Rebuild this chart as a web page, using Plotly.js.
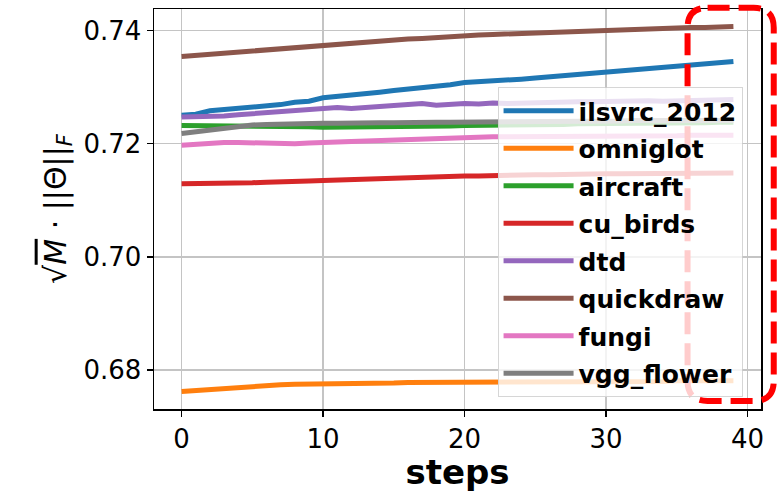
<!DOCTYPE html>
<html>
<head>
<meta charset="utf-8">
<script src="https://cdn.plot.ly/plotly-3.0.1.min.js"></script>
<style>html,body{margin:0;padding:0;background:#fff;}#chart{width:781px;height:492px;}</style>
</head>
<body>
<div id="chart"></div>
<script>
const steps = Array.from({length: 40}, (_, i) => i);
const seriesNames = ["ilsvrc_2012","omniglot","aircraft","cu_birds","dtd","quickdraw","fungi","vgg_flower"];
const seriesColors = ["#1f77b4","#ff7f0e","#2ca02c","#d62728","#9467bd","#8c564b","#e377c2","#7f7f7f"];

const ilsvrc_2012 = [0.7250,0.7252,0.7258,0.7260,0.7261,0.7264,0.7266,0.7269,0.7273,0.7275,0.7281,0.7283,0.7285,0.7288,0.7291,0.7294,0.7296,0.7298,0.7301,0.7304,0.7308,0.7309,0.7311,0.7313,0.7314,0.7316,0.7318,0.7320,0.7322,0.7324,0.7327,0.7328,0.7330,0.7332,0.7334,0.7336,0.7338,0.7340,0.7341,0.7345];
const omniglot = [0.6762,0.6764,0.6766,0.6768,0.6770,0.6772,0.6773,0.6774,0.6775,0.6775,0.6776,0.6776,0.6777,0.6777,0.6777,0.6777,0.6778,0.6778,0.6778,0.6778,0.6778,0.6779,0.6779,0.6779,0.6779,0.6779,0.6779,0.6780,0.6780,0.6780,0.6780,0.6780,0.6780,0.6780,0.6780,0.6781,0.6781,0.6781,0.6781,0.6781];
const aircraft = [0.7232,0.7232,0.7232,0.7231,0.7231,0.7231,0.7231,0.7230,0.7230,0.7230,0.7229,0.7229,0.7229,0.7229,0.7229,0.7229,0.7230,0.7230,0.7231,0.7231,0.7232,0.7232,0.7233,0.7233,0.7233,0.7234,0.7234,0.7234,0.7235,0.7235,0.7235,0.7236,0.7236,0.7236,0.7237,0.7237,0.7237,0.7237,0.7238,0.7238];
const cu_birds = [0.7129,0.7129,0.7130,0.7130,0.7131,0.7131,0.7132,0.7132,0.7133,0.7134,0.7135,0.7136,0.7137,0.7138,0.7139,0.7139,0.7140,0.7140,0.7141,0.7142,0.7143,0.7143,0.7144,0.7144,0.7145,0.7145,0.7145,0.7146,0.7146,0.7147,0.7147,0.7147,0.7147,0.7148,0.7148,0.7148,0.7148,0.7148,0.7148,0.7148];
const dtd = [0.7247,0.7247,0.7248,0.7249,0.7251,0.7253,0.7254,0.7256,0.7258,0.7259,0.7261,0.7264,0.7262,0.7264,0.7266,0.7268,0.7269,0.7271,0.7268,0.7270,0.7271,0.7270,0.7272,0.7271,0.7272,0.7273,0.7272,0.7273,0.7274,0.7274,0.7275,0.7274,0.7275,0.7276,0.7275,0.7276,0.7277,0.7276,0.7277,0.7278];
const quickdraw = [0.7354,0.7356,0.7358,0.7360,0.7362,0.7364,0.7366,0.7368,0.7370,0.7372,0.7375,0.7376,0.7378,0.7380,0.7381,0.7383,0.7385,0.7386,0.7388,0.7389,0.7391,0.7392,0.7393,0.7394,0.7395,0.7396,0.7397,0.7398,0.7399,0.7400,0.7401,0.7402,0.7402,0.7403,0.7404,0.7404,0.7405,0.7405,0.7406,0.7407];
const fungi = [0.7197,0.7199,0.7201,0.7202,0.7202,0.7201,0.7201,0.7200,0.7200,0.7201,0.7203,0.7203,0.7204,0.7205,0.7206,0.7207,0.7208,0.7209,0.7210,0.7210,0.7211,0.7211,0.7212,0.7212,0.7212,0.7212,0.7213,0.7213,0.7213,0.7213,0.7213,0.7213,0.7214,0.7214,0.7214,0.7214,0.7215,0.7215,0.7215,0.7215];
const vgg_flower = [0.7218,0.7221,0.7226,0.7229,0.7232,0.7233,0.7234,0.7235,0.7235,0.7236,0.7236,0.7236,0.7237,0.7237,0.7237,0.7237,0.7238,0.7238,0.7238,0.7238,0.7238,0.7239,0.7239,0.7239,0.7239,0.7239,0.7240,0.7240,0.7240,0.7240,0.7240,0.7240,0.7241,0.7241,0.7241,0.7241,0.7241,0.7241,0.7241,0.7241];

const xTickVals = [0, 10, 20, 30, 40];
const yTickVals = [0.68, 0.70, 0.72, 0.74];
const yTickText = ["0.68", "0.70", "0.72", "0.74"];

const seriesValues = [ilsvrc_2012, omniglot, aircraft, cu_birds, dtd, quickdraw, fungi, vgg_flower];

const traces = seriesNames.map((name, i) => ({
  x: steps, y: seriesValues[i], name: name, type: "scatter", mode: "lines",
  legendgroup: name,
  line: {color: seriesColors[i], width: 5}
}));

// red dashed rounded box (paper coords)
const bx0 = 0.879, bx1 = 1.021, by0 = 0.020, by1 = 1.003, rx = 0.033, ry = 0.050;
const boxPath = `M${bx0+rx},${by1} L${bx1-rx},${by1} Q${bx1},${by1} ${bx1},${by1-ry} L${bx1},${by0+ry} Q${bx1},${by0} ${bx1-rx},${by0} L${bx0+rx},${by0} Q${bx0},${by0} ${bx0},${by0+ry} L${bx0},${by1-ry} Q${bx0},${by1} ${bx0+rx},${by1} Z`;

const layout = {
  width: 781, height: 492,
  margin: {l: 154, r: 20, t: 8.5, b: 83, pad: 0},
  paper_bgcolor: "#fff", plot_bgcolor: "#fff",
  font: {family: "DejaVu Sans", color: "#000"},
  showlegend: true,
  xaxis: {
    range: [-1.95, 40.95], tickvals: xTickVals, ticktext: xTickVals.map(String),
    showgrid: true, gridcolor: "#c4c4c4", gridwidth: 1.5,
    zeroline: false, showline: true, mirror: true, linecolor: "#000", linewidth: 1.5,
    ticks: "outside", ticklen: 6, tickwidth: 1.5, tickcolor: "#000",
    tickfont: {size: 26, family: "DejaVu Sans", color: "#000"},
    title: {text: "<b>steps</b>", font: {size: 34, family: "DejaVu Sans", color: "#000"}, standoff: 6}
  },
  yaxis: {
    range: [0.67312, 0.74379], tickvals: yTickVals, ticktext: yTickText,
    showgrid: true, gridcolor: "#c4c4c4", gridwidth: 1.5,
    zeroline: false, showline: true, mirror: true, linecolor: "#000", linewidth: 1.5,
    ticks: "outside", ticklen: 6, tickwidth: 1.5, tickcolor: "#000",
    tickfont: {size: 26, family: "DejaVu Sans", color: "#000"},
    title: {text: "√<span style='text-decoration:overline'><i>M</i></span> · ||Θ||<sub><i>F</i></sub>", font: {size: 30, family: "DejaVu Sans", color: "#000"}, standoff: 8}
  },
  legend: {
    x: 0.566, y: 0.805, xanchor: "left", yanchor: "top",
    bgcolor: "rgba(255,255,255,0.8)", bordercolor: "rgba(204,204,204,0.8)", borderwidth: 1,
    font: {size: 25, family: "DejaVu Sans", color: "#000", weight: "bold"},
    itemwidth: 70, tracegroupgap: 2
  },
  shapes: [{
    type: "path", xref: "paper", yref: "paper", path: boxPath, layer: "above",
    line: {color: "#ff0000", width: 6, dash: "22px,9px"}
  }]
};

Plotly.newPlot("chart", traces, layout, {displayModeBar: false, staticPlot: true});
</script>
</body>
</html>
